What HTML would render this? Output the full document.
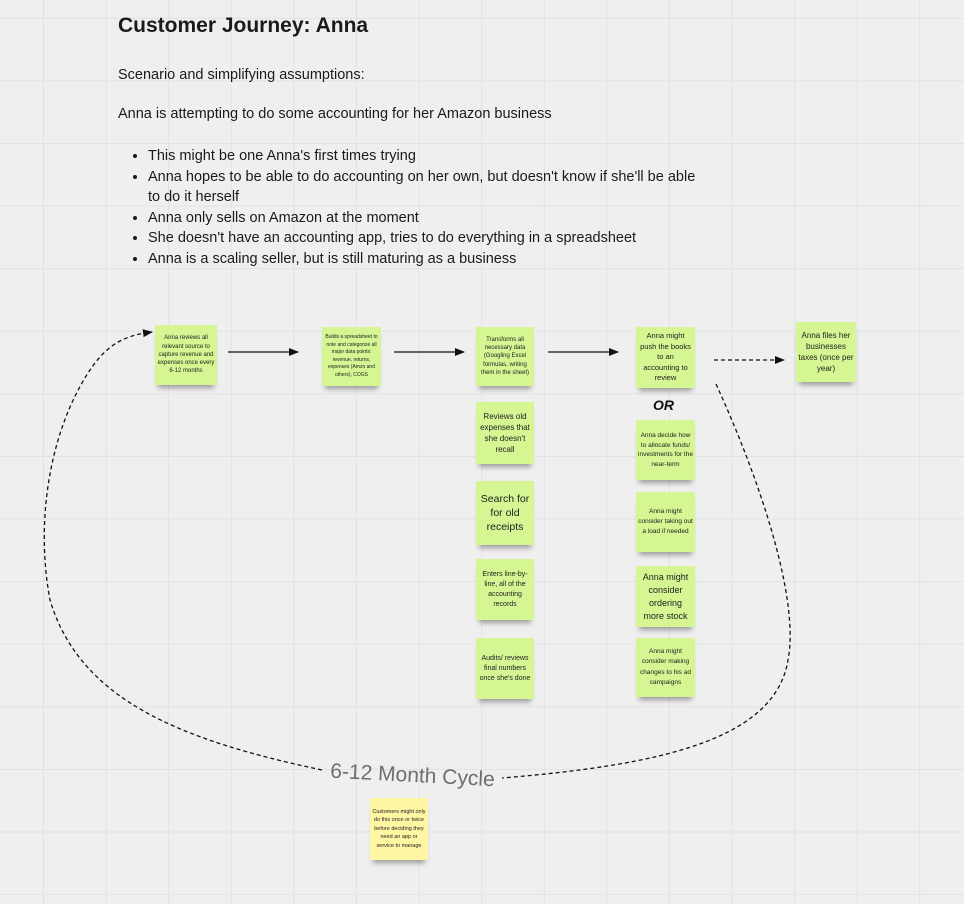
<!DOCTYPE html>
<html><head><meta charset="utf-8"><style>
html,body{margin:0;padding:0}
body{width:964px;height:904px;position:relative;overflow:hidden;background:#efefef;
background-image:linear-gradient(#e2e2e2 1px,transparent 1px),linear-gradient(90deg,#e2e2e2 1px,transparent 1px);
background-size:62.6px 62.6px;background-position:43px 17.8px;font-family:"Liberation Sans",sans-serif;color:#1a1a1a}
.t{position:absolute;left:118px}
h1{position:absolute;left:118px;top:14px;margin:0;font-size:21px;font-weight:bold}
.p{font-size:14.5px}
ul{position:absolute;left:130px;top:146px;margin:0;padding:0 0 0 18px;font-size:14.5px;line-height:20.5px;width:560px}
li{padding-left:0}
.s{position:absolute;background:#d5f692;box-shadow:0 6px 5px -3px rgba(0,0,0,.35);display:flex;align-items:center;justify-content:center;text-align:center;font-size:6px;line-height:8.3px;color:#222;padding:2px;box-sizing:border-box}
.m{font-size:8px;line-height:11px}
.l{font-size:10.5px;line-height:14px}
svg{position:absolute;left:0;top:0}
</style></head><body>
<h1>Customer Journey: Anna</h1>
<div class="t p" style="top:67px">Scenario and simplifying assumptions:</div>
<div class="t p" style="top:106px">Anna is attempting to do some accounting for her Amazon business</div>
<ul>
<li>This might be one Anna's first times trying</li>
<li>Anna hopes to be able to do accounting on her own, but doesn't know if she'll be able to do it herself</li>
<li>Anna only sells on Amazon at the moment</li>
<li>She doesn't have an accounting app, tries to do everything in a spreadsheet</li>
<li>Anna is a scaling seller, but is still maturing as a business</li>
</ul>
<svg width="964" height="904">
<defs><marker id="a" markerWidth="10" markerHeight="8" refX="9" refY="4" orient="auto" markerUnits="userSpaceOnUse"><path d="M0,0L10,4L0,8z" fill="#111"/></marker></defs>
<g stroke="#111" stroke-width="1.3" fill="none">
<line x1="228" y1="352" x2="298" y2="352" marker-end="url(#a)"/>
<line x1="394" y1="352" x2="464" y2="352" marker-end="url(#a)"/>
<line x1="548" y1="352" x2="618" y2="352" marker-end="url(#a)"/>
<g stroke-dasharray="4,3">
<line x1="714" y1="360" x2="784" y2="360" marker-end="url(#a)"/>
<path d="M716,384 C760,480 800,600 788,660 C775,740 660,765 502,778"/>
<path d="M322,770 C180,740 80,700 50,600 C35,520 50,430 90,370 C110,340 130,335 152,332" marker-end="url(#a)"/>
</g></g>
<text x="330" y="782" transform="rotate(3 414 780)" font-family="Liberation Sans,sans-serif" font-size="21" fill="#6e6e6e">6-12 Month Cycle</text>
<text x="653" y="410" font-family="Liberation Sans,sans-serif" font-size="14" font-weight="bold" font-style="italic" fill="#111">OR</text>
</svg>
<div class="s" style="left:155px;top:325px;width:62px;height:60px">Anna reviews all relevant source to capture revenue and expenses once every 6-12 months</div>
<div class="s" style="left:322px;top:327px;width:59px;height:59px;font-size:5px;line-height:7.5px">Builds a spreadsheet to note and categorize all major data points: revenue, returns, expenses (Amzn and others), COGS</div>
<div class="s" style="left:476px;top:327px;width:58px;height:59px">Transforms all necessary data (Googling Excel formulas, writing them in the sheet)</div>
<div class="s m" style="left:476px;top:402px;width:58px;height:62px">Reviews old expenses that she doesn't recall</div>
<div class="s l" style="left:476px;top:481px;width:58px;height:64px">Search for for old receipts</div>
<div class="s m" style="left:476px;top:559px;width:58px;height:61px;font-size:7px;line-height:10px">Enters line-by-line, all of the accounting records</div>
<div class="s m" style="left:476px;top:638px;width:58px;height:61px;font-size:7px;line-height:10px">Audits/ reviews final numbers once she's done</div>
<div class="s m" style="left:636px;top:327px;width:59px;height:61px;font-size:7.5px;line-height:10.5px">Anna might push the books to an accounting to review</div>
<div class="s" style="left:636px;top:420px;width:59px;height:60px;font-size:6.5px;line-height:9.5px">Anna decide how to allocate funds/ investments for the near-term</div>
<div class="s" style="left:636px;top:492px;width:59px;height:60px;font-size:6.5px;line-height:10px">Anna might consider taking out a load if needed</div>
<div class="s" style="left:636px;top:566px;width:59px;height:61px;font-size:9px;line-height:13px">Anna might consider ordering more stock</div>
<div class="s" style="left:636px;top:638px;width:59px;height:59px;font-size:6.5px;line-height:10.5px">Anna might consider making changes to his ad campaigns</div>
<div class="s m" style="left:796px;top:322px;width:60px;height:60px">Anna files her businesses taxes (once per year)</div>
<div class="s" style="left:370px;top:798px;width:58px;height:62px;background:#fff6a3;font-size:5.5px;line-height:8.5px">Customers might only do this once or twice before deciding they need an app or service to manage</div>
</body></html>
